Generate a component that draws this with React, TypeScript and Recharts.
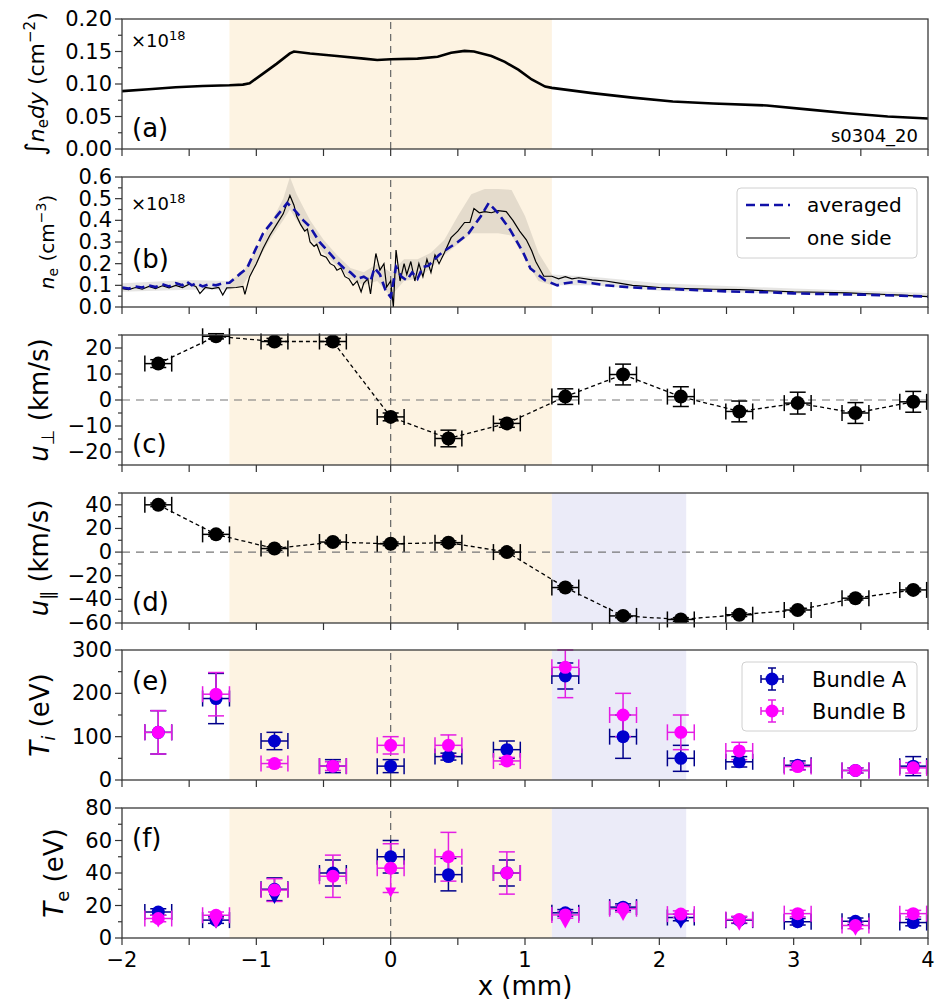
import React from 'react';
import {
  ComposedChart,
  Line,
  Area,
  Scatter,
  XAxis,
  YAxis,
  ErrorBar,
  ReferenceArea,
  ReferenceLine,
} from 'recharts';

const FONT = '"DejaVu Sans", Verdana, sans-serif';

// ---------- data ----------
const xTicks = [-2, -1.5, -1, -0.5, 0, 0.5, 1, 1.5, 2, 2.5, 3, 3.5, 4];

// (a) line-integrated density, x10^18 cm^-2
const columnDensity: [number, number][] = [
  [-2.0, 0.089], [-1.8, 0.092], [-1.6, 0.095], [-1.4, 0.097], [-1.2, 0.098], [-1.1, 0.099],
  [-1.05, 0.101], [-0.95, 0.116], [-0.85, 0.131], [-0.75, 0.147], [-0.72, 0.15], [-0.6, 0.147],
  [-0.4, 0.143], [-0.2, 0.139], [-0.1, 0.137], [0.0, 0.138], [0.2, 0.139], [0.35, 0.142],
  [0.45, 0.148], [0.55, 0.151], [0.62, 0.15], [0.75, 0.143], [0.85, 0.134], [0.95, 0.122],
  [1.05, 0.107], [1.15, 0.096], [1.2, 0.094], [1.5, 0.086], [1.8, 0.079], [2.1, 0.073],
  [2.4, 0.07], [2.8, 0.067], [3.1, 0.061], [3.4, 0.055], [3.7, 0.05], [4.0, 0.047],
];

// (b) density profiles, x10^18 cm^-3
const oneSide: [number, number][] = [
  [-2.0, 0.085], [-1.95, 0.08], [-1.9, 0.09], [-1.85, 0.082], [-1.8, 0.095], [-1.75, 0.085],
  [-1.7, 0.098], [-1.65, 0.088], [-1.6, 0.1], [-1.55, 0.09], [-1.5, 0.105], [-1.45, 0.095],
  [-1.42, 0.062], [-1.38, 0.09], [-1.33, 0.085], [-1.28, 0.09], [-1.25, 0.055], [-1.22, 0.088],
  [-1.15, 0.09], [-1.1, 0.095], [-1.085, 0.058], [-1.05, 0.14], [-1.0, 0.2], [-0.95, 0.27],
  [-0.9, 0.33], [-0.85, 0.38], [-0.8, 0.43], [-0.75, 0.515], [-0.72, 0.47], [-0.7, 0.42],
  [-0.67, 0.38], [-0.64, 0.35], [-0.62, 0.36], [-0.6, 0.3], [-0.57, 0.28], [-0.55, 0.29],
  [-0.52, 0.24], [-0.48, 0.23], [-0.45, 0.2], [-0.42, 0.19], [-0.4, 0.17], [-0.37, 0.18],
  [-0.34, 0.14], [-0.31, 0.13], [-0.28, 0.1], [-0.25, 0.12], [-0.22, 0.07], [-0.2, 0.11],
  [-0.17, 0.13], [-0.15, 0.06], [-0.13, 0.16], [-0.11, 0.247], [-0.08, 0.17], [-0.05, 0.2],
  [-0.03, 0.092], [0.0, 0.12], [0.02, 0.0], [0.04, 0.263], [0.07, 0.12], [0.1, 0.2],
  [0.12, 0.15], [0.15, 0.21], [0.18, 0.12], [0.21, 0.2], [0.24, 0.14], [0.27, 0.22],
  [0.3, 0.16], [0.33, 0.24], [0.36, 0.2], [0.4, 0.25], [0.45, 0.32], [0.5, 0.35],
  [0.55, 0.39], [0.59, 0.39], [0.62, 0.455], [0.66, 0.435], [0.7, 0.44], [0.75, 0.435],
  [0.8, 0.445], [0.86, 0.44], [0.91, 0.4], [0.96, 0.35], [1.01, 0.31], [1.05, 0.26],
  [1.08, 0.21], [1.14, 0.142], [1.2, 0.142], [1.25, 0.13], [1.3, 0.14], [1.35, 0.13],
  [1.4, 0.135], [1.5, 0.125], [1.6, 0.12], [1.7, 0.11], [1.8, 0.1], [1.9, 0.095],
  [2.0, 0.09], [2.2, 0.085], [2.4, 0.082], [2.6, 0.08], [2.8, 0.075], [3.0, 0.07],
  [3.2, 0.068], [3.4, 0.065], [3.6, 0.06], [3.8, 0.055], [4.0, 0.048],
];

const averaged: [number, number][] = [
  [-2.0, 0.09], [-1.95, 0.085], [-1.9, 0.095], [-1.85, 0.09], [-1.8, 0.1], [-1.75, 0.092],
  [-1.7, 0.105], [-1.65, 0.095], [-1.6, 0.11], [-1.55, 0.1], [-1.52, 0.118], [-1.48, 0.1],
  [-1.45, 0.11], [-1.4, 0.095], [-1.35, 0.105], [-1.3, 0.1], [-1.25, 0.11], [-1.2, 0.112],
  [-1.12, 0.154], [-1.07, 0.178], [-1.02, 0.247], [-0.95, 0.34], [-0.85, 0.418], [-0.77, 0.48],
  [-0.72, 0.45], [-0.65, 0.4], [-0.6, 0.37], [-0.53, 0.3], [-0.47, 0.26], [-0.4, 0.21],
  [-0.35, 0.18], [-0.3, 0.16], [-0.25, 0.13], [-0.2, 0.14], [-0.15, 0.12], [-0.12, 0.18],
  [-0.08, 0.15], [-0.04, 0.08], [0.0, 0.045], [0.04, 0.185], [0.08, 0.14], [0.12, 0.123],
  [0.16, 0.16], [0.2, 0.13], [0.24, 0.185], [0.28, 0.19], [0.32, 0.216], [0.36, 0.24],
  [0.41, 0.263], [0.5, 0.3], [0.58, 0.34], [0.67, 0.418], [0.73, 0.48], [0.8, 0.433],
  [0.89, 0.356], [0.99, 0.247], [1.04, 0.178], [1.15, 0.123], [1.24, 0.1], [1.3, 0.11],
  [1.4, 0.118], [1.5, 0.11], [1.6, 0.1], [1.8, 0.09], [2.0, 0.085], [2.2, 0.08],
  [2.5, 0.072], [2.8, 0.068], [3.0, 0.063], [3.2, 0.06], [3.5, 0.057], [3.8, 0.052],
  [4.0, 0.048],
];

// [x, low, high]
const spread: [number, number, number][] = [
  [-2.0, 0.07, 0.11], [-1.5, 0.08, 0.125], [-1.2, 0.08, 0.12], [-1.1, 0.1, 0.16],
  [-1.0, 0.2, 0.26], [-0.9, 0.31, 0.38], [-0.8, 0.4, 0.5], [-0.75, 0.45, 0.6],
  [-0.7, 0.4, 0.52], [-0.6, 0.32, 0.4], [-0.5, 0.25, 0.31], [-0.4, 0.19, 0.24],
  [-0.3, 0.13, 0.18], [-0.2, 0.1, 0.16], [-0.1, 0.12, 0.2], [0.0, 0.05, 0.16],
  [0.1, 0.12, 0.22], [0.2, 0.13, 0.22], [0.3, 0.18, 0.25], [0.4, 0.24, 0.31],
  [0.5, 0.29, 0.42], [0.6, 0.34, 0.52], [0.7, 0.34, 0.545], [0.8, 0.34, 0.545],
  [0.9, 0.33, 0.54], [1.0, 0.22, 0.42], [1.1, 0.12, 0.25], [1.2, 0.1, 0.15],
  [1.5, 0.1, 0.14], [2.0, 0.075, 0.11], [3.0, 0.06, 0.085], [4.0, 0.045, 0.065],
];

// probe positions (mm) and their x uncertainty
const probeX = [-1.73, -1.3, -0.865, -0.43, 0.0, 0.43, 0.865, 1.3, 1.73, 2.16, 2.595, 3.03, 3.46, 3.89];
const probeXErr = [0.1, 0.1, 0.1, 0.1, 0.1, 0.1, 0.1, 0.1, 0.1, 0.1, 0.1, 0.1, 0.1, 0.1];

// (c) u_perp, km/s
const uPerp = [14, 24.5, 22.5, 22.5, -6.5, -14.8, -9, 1.3, 9.8, 1.3, -4.4, -1.2, -5, -0.7];
const uPerpErr = [1.5, 1, 1.2, 1.2, 1.5, 3.2, 1.5, 3, 4, 3.8, 4, 4.2, 4, 4];

// (d) u_par, km/s
const uPar = [40, 15, 3, 8.5, 7, 8, 0, -30, -54, -57, -53, -49, -39, -32];
const uParErr = [1.5, 1.5, 1.5, 1.5, 1.5, 1.5, 1.5, 1.5, 1.5, 1.5, 1.5, 1.5, 1.5, 1.5];

// (e) T_i, eV
const tiA = [110, 188, 90, 32, 32, 54, 70, 240, 100, 50, 42, 34, 22, 32];
const tiAErr = [50, 58, 20, 15, 15, 8, 20, 30, 50, 30, 12, 10, 6, 22];
const tiB = [110, 198, 38, 32, 80, 80, 44, 260, 150, 110, 67, 31, 22, 28];
const tiBErr = [50, 50, 8, 10, 20, 24, 8, 70, 50, 40, 20, 8, 6, 12];

// (f) T_e, eV
const teA = [16, 11, 30, 40, 50, 39, 40, 15.5, 19, 12.6, 11, 10, 10.3, 9.5];
const teAErr = [2, 2, 7, 8, 10, 10, 8, 2, 2, 2, 2, 2, 2, 2];
const teB = [12, 14, 29.5, 38, 43, 50, 40, 14.2, 18, 14.7, 11.4, 15, 7.7, 15];
const teBErr = [2, 2, 7, 13, 15, 15, 13, 2, 2, 2, 2, 2, 2, 2];
// upper-limit arrows [x, y]
const teALimits: [number, number][] = [[-1.3, 9], [-0.865, 24], [2.16, 9], [3.03, 9], [3.89, 8.5]];
const teBLimits: [number, number][] = [
  [-1.73, 9.5], [-1.3, 9], [0.0, 28], [1.3, 9], [1.73, 13.5], [2.595, 7.5], [3.46, 4.5],
];

// ---------- helpers ----------
const BEIGE = '#fdf3e2';
const LAVENDER = '#ebebf8';
const BLUE = '#0000cd';
const BLUE_ERR = '#00008b';
const MAGENTA = '#ff00ff';
const MAGENTA_ERR = '#e41ee4';

const PLOT_H = 130;
const MT = 16;
const panelTops = [19, 177, 335, 493, 650, 808];

const pairs = (p: [number, number][]) => p.map(([x, y]) => ({ x, y }));
// error bars are clipped to the axis limits like the original axes do
const probe = (ys: number[], ey: number[], yMax = Infinity) =>
  probeX.map((x, i) => ({ x, y: ys[i], ex: probeXErr[i], ey: [ey[i], Math.min(ey[i], yMax - ys[i])] }));

const fmt = (v: number, d: number) => (v < 0 ? '\u2212' : '') + Math.abs(v).toFixed(d);

const XTick = (props: any) => {
  const { x, y, payload, labels } = props;
  const v = payload.value;
  return (
    <g>
      <line x1={x} x2={x} y1={y} y2={y + 7} stroke="#333" strokeWidth={1.2} />
      {labels && Number.isInteger(v) && (
        <text x={x} y={y + 29} textAnchor="middle" fontSize={21} fontFamily={FONT} fill="#000">
          {fmt(v, 0)}
        </text>
      )}
    </g>
  );
};

const YTick = (props: any) => {
  const { x, y, payload, majors, dec } = props;
  const v = payload.value;
  const major = majors.some((m: number) => Math.abs(m - v) < 1e-9);
  return (
    <g>
      <line x1={x} x2={x - (major ? 7 : 4)} y1={y} y2={y} stroke="#333" strokeWidth={1.2} />
      {major && (
        <text x={x - 10} y={y + 7} textAnchor="end" fontSize={21} fontFamily={FONT} fill="#000">
          {fmt(v, dec)}
        </text>
      )}
    </g>
  );
};

const dot = (color: string, r = 6.5) => (p: any) => <circle cx={p.cx} cy={p.cy} r={r} fill={color} />;
const downTri = (color: string) => (p: any) => (
  <path d={`M${p.cx - 5.5},${p.cy - 5} L${p.cx + 5.5},${p.cy - 5} L${p.cx},${p.cy + 5} Z`} fill={color} />
);

interface PanelProps {
  top: number;
  yDomain: [number, number];
  yTicks: number[];
  yMajor: number[];
  dec: number;
  bottom?: boolean;
  children: React.ReactNode;
}

const Panel = ({ top, yDomain, yTicks, yMajor, dec, bottom = false, children }: PanelProps) => {
  const xh = bottom ? 60 : 12;
  return (
    <div style={{ position: 'absolute', left: 0, top: top - MT }}>
      <ComposedChart width={942} height={PLOT_H + MT + xh} margin={{ top: MT, right: 14, bottom: 0, left: 0 }}>
        <XAxis
          type="number"
          dataKey="x"
          domain={[-2, 4]}
          ticks={xTicks}
          interval={0}
          allowDataOverflow
          axisLine={false}
          tickLine={false}
          tickSize={0}
          tickMargin={0}
          height={xh}
          tick={<XTick labels={bottom} />}
        />
        <YAxis
          type="number"
          dataKey="y"
          domain={yDomain}
          ticks={yTicks}
          interval={0}
          allowDataOverflow
          axisLine={false}
          tickLine={false}
          tickSize={0}
          tickMargin={0}
          width={122}
          tick={<YTick majors={yMajor} dec={dec} />}
        />
        {children}
      </ComposedChart>
    </div>
  );
};

const zeroLine = <ReferenceLine x={0} stroke="#666" strokeWidth={1.2} strokeDasharray="7 5" />;

export default function App() {
  const dA = pairs(columnDensity);
  const dOne = pairs(oneSide);
  const dAvg = pairs(averaged);
  const dSpread = spread.map(([x, lo, hi]) => ({ x, y: [lo, hi] }));
  const dPerp = probe(uPerp, uPerpErr);
  const dPar = probe(uPar, uParErr);
  const dTiA = probe(tiA, tiAErr, 300);
  const dTiB = probe(tiB, tiBErr, 300);
  const dTeA = probe(teA, teAErr);
  const dTeB = probe(teB, teBErr);

  return (
    <div style={{ position: 'absolute', left: 0, top: 0, width: 942, height: 1004, background: '#fff' }}>
      {/* (a) */}
      <Panel top={panelTops[0]} yDomain={[0, 0.2]} dec={2}
        yTicks={[0, 0.025, 0.05, 0.075, 0.1, 0.125, 0.15, 0.175, 0.2]} yMajor={[0, 0.05, 0.1, 0.15, 0.2]}>
        <ReferenceArea x1={-1.2} x2={1.2} fill={BEIGE} fillOpacity={1} stroke="none" />
        {zeroLine}
        <Line data={dA} dataKey="y" type="linear" stroke="#000" strokeWidth={2.6} dot={false} isAnimationActive={false} />
      </Panel>

      {/* (b) */}
      <Panel top={panelTops[1]} yDomain={[0, 0.6]} dec={1}
        yTicks={[0, 0.05, 0.1, 0.15, 0.2, 0.25, 0.3, 0.35, 0.4, 0.45, 0.5, 0.55, 0.6]}
        yMajor={[0, 0.1, 0.2, 0.3, 0.4, 0.5, 0.6]}>
        <ReferenceArea x1={-1.2} x2={1.2} fill={BEIGE} fillOpacity={1} stroke="none" />
        {zeroLine}
        <Area data={dSpread} dataKey="y" type="linear" stroke="none" fill="#8f8a80" fillOpacity={0.22} isAnimationActive={false} />
        <Line data={dOne} dataKey="y" type="linear" stroke="#000" strokeWidth={1.2} dot={false} isAnimationActive={false} />
        <Line data={dAvg} dataKey="y" type="linear" stroke="#1010a8" strokeWidth={2.6} strokeDasharray="9 5" dot={false} isAnimationActive={false} />
      </Panel>

      {/* (c) */}
      <Panel top={panelTops[2]} yDomain={[-25, 25]} dec={0}
        yTicks={[-25, -20, -15, -10, -5, 0, 5, 10, 15, 20, 25]} yMajor={[-20, -10, 0, 10, 20]}>
        <ReferenceArea x1={-1.2} x2={1.2} fill={BEIGE} fillOpacity={1} stroke="none" />
        {zeroLine}
        <ReferenceLine y={0} stroke="#777" strokeWidth={1.2} strokeDasharray="8 6" />
        <Line data={dPerp} dataKey="y" type="linear" stroke="#000" strokeWidth={1.3} strokeDasharray="4 3" dot={false} isAnimationActive={false} />
        <Scatter data={dPerp} dataKey="y" shape={dot('#000', 7)} isAnimationActive={false}>
          <ErrorBar dataKey="ex" direction="x" width={8} stroke="#000" strokeWidth={1.5} isAnimationActive={false} />
          <ErrorBar dataKey="ey" direction="y" width={8} stroke="#000" strokeWidth={1.5} isAnimationActive={false} />
        </Scatter>
      </Panel>

      {/* (d) */}
      <Panel top={panelTops[3]} yDomain={[-60, 50]} dec={0}
        yTicks={[-60, -50, -40, -30, -20, -10, 0, 10, 20, 30, 40, 50]} yMajor={[-60, -40, -20, 0, 20, 40]}>
        <ReferenceArea x1={-1.2} x2={1.2} fill={BEIGE} fillOpacity={1} stroke="none" />
        <ReferenceArea x1={1.2} x2={2.2} fill={LAVENDER} fillOpacity={1} stroke="none" />
        {zeroLine}
        <ReferenceLine y={0} stroke="#777" strokeWidth={1.2} strokeDasharray="8 6" />
        <Line data={dPar} dataKey="y" type="linear" stroke="#000" strokeWidth={1.3} strokeDasharray="4 3" dot={false} isAnimationActive={false} />
        <Scatter data={dPar} dataKey="y" shape={dot('#000', 7)} isAnimationActive={false}>
          <ErrorBar dataKey="ex" direction="x" width={8} stroke="#000" strokeWidth={1.5} isAnimationActive={false} />
          <ErrorBar dataKey="ey" direction="y" width={8} stroke="#000" strokeWidth={1.5} isAnimationActive={false} />
        </Scatter>
      </Panel>

      {/* (e) */}
      <Panel top={panelTops[4]} yDomain={[0, 300]} dec={0}
        yTicks={[0, 50, 100, 150, 200, 250, 300]} yMajor={[0, 100, 200, 300]}>
        <ReferenceArea x1={-1.2} x2={1.2} fill={BEIGE} fillOpacity={1} stroke="none" />
        <ReferenceArea x1={1.2} x2={2.2} fill={LAVENDER} fillOpacity={1} stroke="none" />
        {zeroLine}
        <Scatter data={dTiA} dataKey="y" shape={dot(BLUE)} isAnimationActive={false}>
          <ErrorBar dataKey="ex" direction="x" width={8} stroke={BLUE_ERR} strokeWidth={1.5} isAnimationActive={false} />
          <ErrorBar dataKey="ey" direction="y" width={8} stroke={BLUE_ERR} strokeWidth={1.5} isAnimationActive={false} />
        </Scatter>
        <Scatter data={dTiB} dataKey="y" shape={dot(MAGENTA)} isAnimationActive={false}>
          <ErrorBar dataKey="ex" direction="x" width={8} stroke={MAGENTA_ERR} strokeWidth={1.5} isAnimationActive={false} />
          <ErrorBar dataKey="ey" direction="y" width={8} stroke={MAGENTA_ERR} strokeWidth={1.5} isAnimationActive={false} />
        </Scatter>
      </Panel>

      {/* (f) */}
      <Panel top={panelTops[5]} yDomain={[0, 80]} dec={0} bottom
        yTicks={[0, 10, 20, 30, 40, 50, 60, 70, 80]} yMajor={[0, 20, 40, 60, 80]}>
        <ReferenceArea x1={-1.2} x2={1.2} fill={BEIGE} fillOpacity={1} stroke="none" />
        <ReferenceArea x1={1.2} x2={2.2} fill={LAVENDER} fillOpacity={1} stroke="none" />
        {zeroLine}
        <Scatter data={pairs(teALimits)} dataKey="y" shape={downTri(BLUE)} isAnimationActive={false} />
        <Scatter data={dTeA} dataKey="y" shape={dot(BLUE)} isAnimationActive={false}>
          <ErrorBar dataKey="ex" direction="x" width={8} stroke={BLUE_ERR} strokeWidth={1.5} isAnimationActive={false} />
          <ErrorBar dataKey="ey" direction="y" width={8} stroke={BLUE_ERR} strokeWidth={1.5} isAnimationActive={false} />
        </Scatter>
        <Scatter data={pairs(teBLimits)} dataKey="y" shape={downTri(MAGENTA)} isAnimationActive={false} />
        <Scatter data={dTeB} dataKey="y" shape={dot(MAGENTA)} isAnimationActive={false}>
          <ErrorBar dataKey="ex" direction="x" width={8} stroke={MAGENTA_ERR} strokeWidth={1.5} isAnimationActive={false} />
          <ErrorBar dataKey="ey" direction="y" width={8} stroke={MAGENTA_ERR} strokeWidth={1.5} isAnimationActive={false} />
        </Scatter>
      </Panel>

      {/* frames, labels, legends */}
      <svg width={942} height={1004} fontFamily={FONT}
        style={{ position: 'absolute', left: 0, top: 0, pointerEvents: 'none' }}>
        {panelTops.map((t) => (
          <rect key={t} x={122} y={t} width={806} height={PLOT_H} fill="none" stroke="#3a3a3a" strokeWidth={1.3} />
        ))}

        {/* y labels */}
        <text transform="translate(44,84) rotate(-90)" textAnchor="middle" fontSize={22}>
          <tspan fontSize={26}>∫</tspan><tspan fontStyle="italic">n</tspan><tspan dy={4} fontSize={15}>e</tspan>
          <tspan dy={-4} fontStyle="italic">dy</tspan> (cm<tspan dy={-9} fontSize={15}>−2</tspan><tspan dy={9}>)</tspan>
        </text>
        <text transform="translate(54,242) rotate(-90)" textAnchor="middle" fontSize={20}>
          <tspan fontStyle="italic">n</tspan><tspan dy={4} fontSize={14}>e</tspan>
          <tspan dy={-4}> (cm</tspan><tspan dy={-8} fontSize={14}>−3</tspan><tspan dy={8}>)</tspan>
        </text>
        <text transform="translate(48,400) rotate(-90)" textAnchor="middle" fontSize={26}>
          <tspan fontStyle="italic">u</tspan><tspan dy={6} fontSize={18}>⊥</tspan>
          <tspan dy={-6}>  (km/s)</tspan>
        </text>
        <text transform="translate(48,558) rotate(-90)" textAnchor="middle" fontSize={26}>
          <tspan fontStyle="italic">u</tspan><tspan dy={6} fontSize={18}>∥</tspan>
          <tspan dy={-6}>  (km/s)</tspan>
        </text>
        <text transform="translate(49,715) rotate(-90)" textAnchor="middle" fontSize={26}>
          <tspan fontStyle="italic">T</tspan><tspan dy={6} fontSize={18} fontStyle="italic">i</tspan>
          <tspan dy={-6}> (eV)</tspan>
        </text>
        <text transform="translate(63,873) rotate(-90)" textAnchor="middle" fontSize={26}>
          <tspan fontStyle="italic">T</tspan><tspan dy={6} fontSize={18}>e</tspan>
          <tspan dy={-6}> (eV)</tspan>
        </text>

        {/* panel letters */}
        {[
          ['(a)', 137], ['(b)', 268], ['(c)', 453], ['(d)', 611], ['(e)', 690], ['(f)', 847],
        ].map(([s, y]) => (
          <text key={s as string} x={132} y={y as number} fontSize={26}>{s}</text>
        ))}

        {/* multipliers */}
        <text x={131} y={47} fontSize={18}>×10<tspan dy={-7} fontSize={13}>18</tspan></text>
        <text x={131} y={210} fontSize={18}>×10<tspan dy={-7} fontSize={13}>18</tspan></text>
        <text x={918} y={142} fontSize={18} textAnchor="end">s0304_20</text>

        {/* legend (b) */}
        <rect x={737} y={188} width={180} height={70} rx={4} fill="#fff" fillOpacity={0.85} stroke="#d0d0d0" />
        <line x1={746} x2={790} y1={205} y2={205} stroke="#1010a8" strokeWidth={2.6} strokeDasharray="9 5" />
        <text x={807} y={212} fontSize={20}>averaged</text>
        <line x1={746} x2={790} y1={238} y2={238} stroke="#000" strokeWidth={1.2} />
        <text x={807} y={245} fontSize={20}>one side</text>

        {/* legend (e) */}
        <rect x={742} y={662} width={175} height={69} rx={4} fill="#fff" fillOpacity={0.85} stroke="#d0d0d0" />
        {[
          [679, BLUE, BLUE_ERR, 'Bundle A'],
          [711, MAGENTA, MAGENTA_ERR, 'Bundle B'],
        ].map(([y, c, ce, label]) => (
          <g key={label as string}>
            <line x1={761} x2={783} y1={y as number} y2={y as number} stroke={ce as string} strokeWidth={1.5} />
            <line x1={761} x2={761} y1={(y as number) - 4} y2={(y as number) + 4} stroke={ce as string} strokeWidth={1.5} />
            <line x1={783} x2={783} y1={(y as number) - 4} y2={(y as number) + 4} stroke={ce as string} strokeWidth={1.5} />
            <line x1={772} x2={772} y1={(y as number) - 11} y2={(y as number) + 11} stroke={ce as string} strokeWidth={1.5} />
            <line x1={768} x2={776} y1={(y as number) - 11} y2={(y as number) - 11} stroke={ce as string} strokeWidth={1.5} />
            <line x1={768} x2={776} y1={(y as number) + 11} y2={(y as number) + 11} stroke={ce as string} strokeWidth={1.5} />
            <circle cx={772} cy={y as number} r={6.5} fill={c as string} />
            <text x={812} y={(y as number) + 8} fontSize={21}>{label}</text>
          </g>
        ))}

        {/* x label */}
        <text x={525} y={995} fontSize={26} textAnchor="middle">x (mm)</text>
      </svg>
    </div>
  );
}
